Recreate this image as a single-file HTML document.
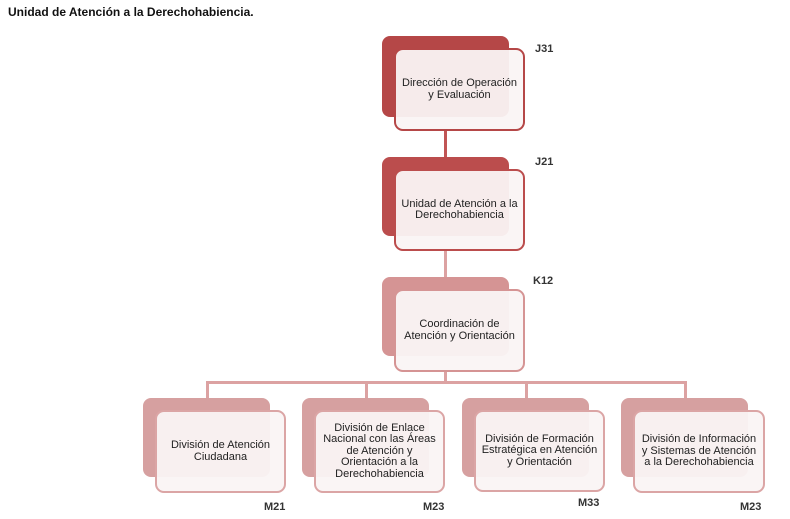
<!DOCTYPE html>
<html><head><meta charset="utf-8"><style>
body{margin:0;width:790px;height:519px;background:#fff;position:relative;overflow:hidden;font-family:"Liberation Sans",Arial,sans-serif}
.t{position:absolute;left:8px;top:5px;font-size:12px;font-weight:bold;color:#111}
.b{position:absolute;border-radius:8px}
.f{position:absolute;border-radius:9px;box-sizing:border-box;border:2.5px solid;background:rgba(250,244,244,0.95);display:flex;align-items:center;justify-content:center;text-align:center;font-size:11px;line-height:11.5px;color:#222;padding:0 3px}
.l{position:absolute;font-size:11px;font-weight:bold;color:#333}
.v{position:absolute;background:#dca2a2}
</style></head><body>
<div class="t">Unidad de Atención a la Derechohabiencia.</div>
<div class="v" style="left:444px;top:131px;width:3px;height:27px;background:#c15555"></div>
<div class="v" style="left:444px;top:251px;width:3px;height:27px;background:#dca2a2"></div>
<div class="v" style="left:444px;top:372px;width:3px;height:10px"></div>
<div class="v" style="left:206px;top:381px;width:481px;height:3px"></div>
<div class="v" style="left:206px;top:381px;width:3px;height:18px"></div>
<div class="v" style="left:365px;top:381px;width:3px;height:18px"></div>
<div class="v" style="left:525px;top:381px;width:3px;height:18px"></div>
<div class="v" style="left:684px;top:381px;width:3px;height:18px"></div>

<div class="b" style="left:382px;top:36px;width:127px;height:81px;background:#b54747"></div>
<div class="f" style="left:394px;top:48px;width:131px;height:83px;border-color:#b54747">Dirección de Operación<br>y Evaluación</div>
<div class="l" style="left:535px;top:43px">J31</div>

<div class="b" style="left:382px;top:157px;width:127px;height:79px;background:#bb4d4d"></div>
<div class="f" style="left:394px;top:169px;width:131px;height:82px;border-color:#bb4d4d">Unidad de Atención a la<br>Derechohabiencia</div>
<div class="l" style="left:535px;top:156px">J21</div>

<div class="b" style="left:382px;top:277px;width:127px;height:79px;background:#d59494"></div>
<div class="f" style="left:394px;top:289px;width:131px;height:83px;border-color:#d59494">Coordinación de<br>Atención y Orientación</div>
<div class="l" style="left:533px;top:275px">K12</div>

<div class="b" style="left:143px;top:398px;width:127px;height:79px;background:#d6a0a0"></div>
<div class="f" style="left:155px;top:410px;width:131px;height:83px;border-color:#dba5a5">División de Atención<br>Ciudadana</div>
<div class="l" style="left:264px;top:501px">M21</div>

<div class="b" style="left:302px;top:398px;width:127px;height:79px;background:#d6a0a0"></div>
<div class="f" style="left:314px;top:410px;width:131px;height:83px;border-color:#dba5a5">División de Enlace<br>Nacional con las Áreas<br>de Atención y<br>Orientación a la<br>Derechohabiencia</div>
<div class="l" style="left:423px;top:501px">M23</div>

<div class="b" style="left:462px;top:398px;width:127px;height:79px;background:#d6a0a0"></div>
<div class="f" style="left:474px;top:410px;width:131px;height:82px;border-color:#dba5a5">División de Formación<br>Estratégica en Atención<br>y Orientación</div>
<div class="l" style="left:578px;top:497px">M33</div>

<div class="b" style="left:621px;top:398px;width:127px;height:79px;background:#d6a0a0"></div>
<div class="f" style="left:633px;top:410px;width:132px;height:83px;border-color:#dba5a5">División de Información<br>y Sistemas de Atención<br>a la Derechohabiencia</div>
<div class="l" style="left:740px;top:501px">M23</div>
</body></html>
